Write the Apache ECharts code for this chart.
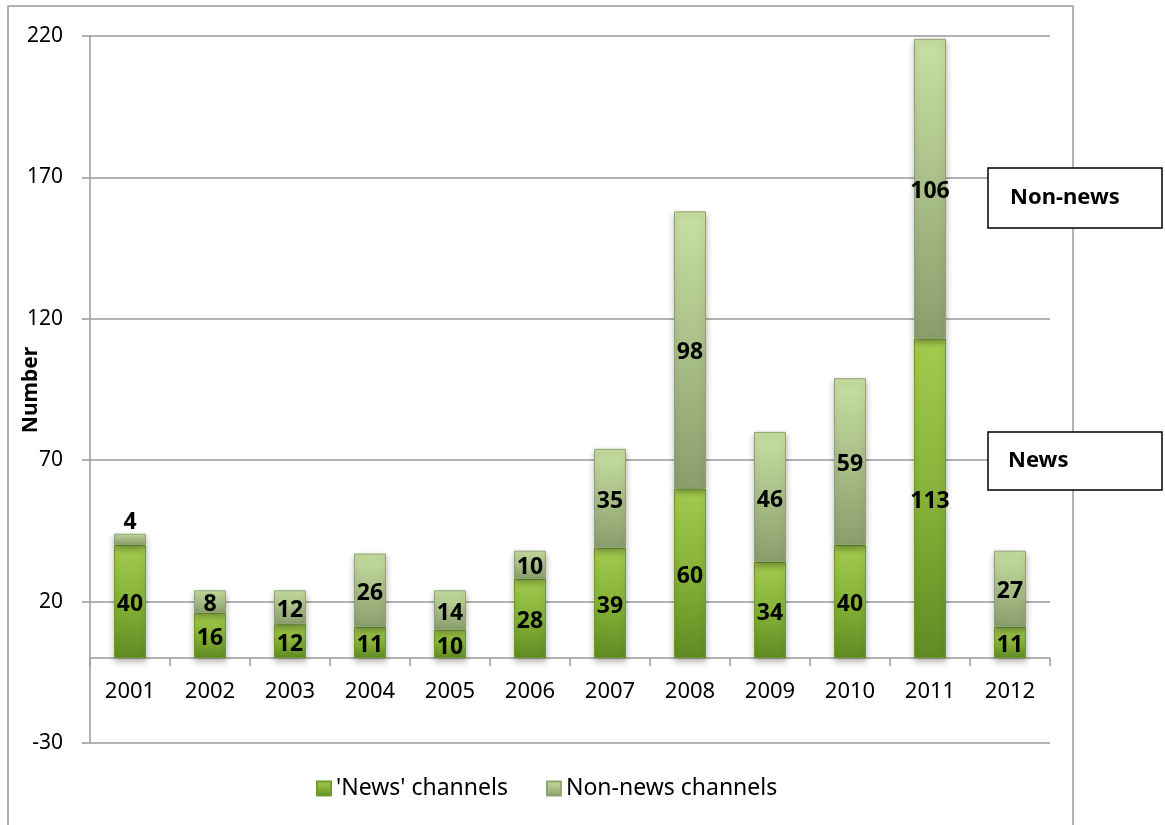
<!DOCTYPE html>
<html>
<head>
<meta charset="utf-8">
<script src="https://cdn.jsdelivr.net/npm/echarts@6/dist/echarts.min.js"></script>
<style>
  html, body { margin: 0; padding: 0; background: #fff; }
  #chart { width: 1165px; height: 825px; }
</style>
</head>
<body>
<div id="chart"></div>
<script>
var years = ['2001', '2002', '2003', '2004', '2005', '2006', '2007', '2008', '2009', '2010', '2011', '2012'];
var newsChannels = [40, 16, 12, 11, 10, 28, 39, 60, 34, 40, 113, 11];
var nonNewsChannels = [4, 8, 12, 26, 14, 10, 35, 98, 46, 59, 106, 27];
var yTicks = { min: -30, max: 220, step: 50 };

var chart = echarts.init(document.getElementById('chart'));
var font = 'Noto Sans';

// 4 is too small to fit inside, Excel put it above the bar
var nonNewsData = nonNewsChannels.map(function (v) {
  if (v < 6) {
    return { value: v, label: { position: 'top', distance: 0, offset: [0, 0] } };
  }
  return v;
});

var newsColor = new echarts.graphic.LinearGradient(0, 0, 0, 1, [
  { offset: 0, color: '#a3cc4e' },
  { offset: 0.5, color: '#86b237' },
  { offset: 1, color: '#5f8c24' }
]);
var nonNewsColor = new echarts.graphic.LinearGradient(0, 0, 0, 1, [
  { offset: 0, color: '#c8e0a0' },
  { offset: 0.5, color: '#a9bf88' },
  { offset: 1, color: '#8a9e6c' }
]);

var labelStyle = {
  show: true,
  position: 'inside',
  offset: [0, 3],
  color: '#000',
  fontFamily: font,
  fontWeight: 'bold',
  fontSize: 23
};

var option = {
  backgroundColor: '#fff',
  animation: false,
  grid: { left: 90, right: 115, top: 36, bottom: 82, containLabel: false, outerBoundsMode: 'none' },
  legend: {
    bottom: 20,
    left: 311,
    icon: 'rect',
    itemWidth: 14,
    itemHeight: 14,
    itemGap: 38,
    textStyle: { fontFamily: font, fontSize: 23, color: '#000' },
    data: ["'News' channels", 'Non-news channels']
  },
  xAxis: {
    type: 'category',
    data: years,
    axisLine: { onZero: true, lineStyle: { color: '#9a9a9a', width: 1.5 } },
    axisTick: { show: true, length: 8, lineStyle: { color: '#9a9a9a', width: 1.5 } },
    // labels sit just under the zero line, not at the grid bottom
    axisLabel: { color: '#000', fontFamily: font, fontSize: 22, margin: -62 }
  },
  yAxis: {
    type: 'value',
    min: yTicks.min,
    max: yTicks.max,
    interval: yTicks.step,
    axisLine: { show: true, lineStyle: { color: '#9a9a9a', width: 1.5 } },
    axisTick: { show: true, length: 8, lineStyle: { color: '#9a9a9a', width: 1.5 } },
    axisLabel: { color: '#000', fontFamily: font, fontSize: 21, margin: 27 },
    splitLine: { lineStyle: { color: '#9a9a9a', width: 1.5 } }
  },
  series: [
    {
      name: "'News' channels",
      type: 'bar',
      stack: 'total',
      barWidth: 32,
      itemStyle: {
        color: newsColor,
        borderColor: '#6f9a2c',
        borderWidth: 1,
        shadowColor: 'rgba(0,0,0,0.3)',
        shadowBlur: 6,
        shadowOffsetY: 3
      },
      label: labelStyle,
      data: newsChannels
    },
    {
      name: 'Non-news channels',
      type: 'bar',
      stack: 'total',
      barWidth: 32,
      itemStyle: {
        color: nonNewsColor,
        borderColor: '#8fa470',
        borderWidth: 1,
        shadowColor: 'rgba(0,0,0,0.3)',
        shadowBlur: 6,
        shadowOffsetY: 3
      },
      label: labelStyle,
      data: nonNewsData
    }
  ],
  graphic: [
    {
      type: 'rect',
      z: -10,
      shape: { x: 8, y: 6, width: 1065, height: 840 },
      style: { fill: 'none', stroke: '#9a9a9a', lineWidth: 1.5 }
    },
    {
      // y axis title
      type: 'text',
      x: 31,
      y: 390,
      rotation: Math.PI / 2,
      style: {
        text: 'Number',
        fill: '#000',
        font: 'bold 21px "Noto Sans"',
        align: 'center',
        verticalAlign: 'middle'
      }
    },
    {
      type: 'rect',
      z: 100,
      shape: { x: 988, y: 168, width: 174, height: 60 },
      style: { fill: '#fff', stroke: '#000', lineWidth: 1.5 }
    },
    {
      type: 'text',
      z: 101,
      x: 1010,
      y: 198,
      style: {
        text: 'Non-news',
        fill: '#000',
        font: 'bold 22px "Noto Sans"',
        verticalAlign: 'middle'
      }
    },
    {
      type: 'rect',
      z: 100,
      shape: { x: 988, y: 432, width: 174, height: 58 },
      style: { fill: '#fff', stroke: '#000', lineWidth: 1.5 }
    },
    {
      type: 'text',
      z: 101,
      x: 1008,
      y: 461,
      style: {
        text: 'News',
        fill: '#000',
        font: 'bold 22px "Noto Sans"',
        verticalAlign: 'middle'
      }
    }
  ]
};

option && chart.setOption(option);
</script>
</body>
</html>
